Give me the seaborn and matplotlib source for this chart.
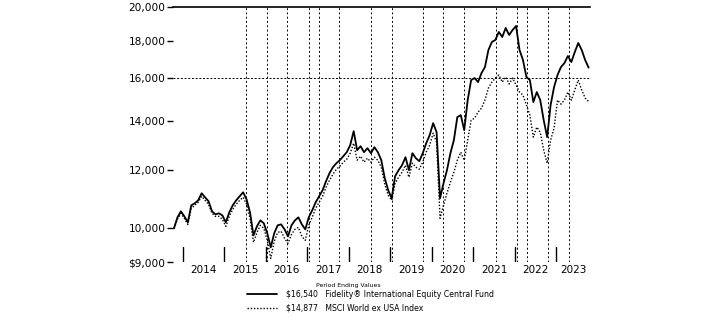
import numpy as np
import pandas as pd
import matplotlib
matplotlib.use("Agg")
import matplotlib.pyplot as plt
import seaborn as sns
from matplotlib.lines import Line2D
from matplotlib.ticker import FixedLocator, NullLocator

# ---- data (month-end values of a hypothetical $10,000 investment, Oct 2013 - Oct 2023) ----
fund_values = [
    10000, 10351, 10547,
    10383, 10190, 10748, 10815, 10918, 11161, 11021, 10884, 10547, 10449, 10482, 10416,
    10190, 10514, 10748, 10918, 11056, 11196, 10952, 10514, 9783, 10063, 10254, 10158,
    9845, 9422, 9845, 10095, 10126, 9969, 9752, 10095, 10254, 10351, 10126, 9969,
    10351, 10581, 10850, 11056, 11267, 11590, 11884, 12110, 12263, 12379, 12535, 12693,
    12975, 13557, 12773, 12934, 12693, 12853, 12654, 12894, 12693, 12379, 11699, 11267,
    10987, 11773, 11997, 12186, 12496, 11997, 12654, 12457, 12340, 12654, 13056, 13389,
    13902, 13515, 10987, 11517, 11997, 12654, 13180, 14166, 14255, 13600, 14943, 15910,
    16010, 15811, 16263, 16572, 17481, 17925, 18038, 18496, 18208, 18730, 18323, 18613,
    18848, 17481, 16941, 16061, 15910, 14849, 15323, 14943, 14034, 13305, 14710, 15565,
    16162, 16572, 16782, 17155, 16835, 17371, 17869, 17481, 16941, 16540,
]
index_values = [
    10000, 10286, 10482,
    10319, 10126, 10647, 10748, 10850, 11056, 10918, 10782, 10482, 10383, 10383, 10286,
    10063, 10383, 10614, 10782, 10918, 11021, 10782, 10319, 9571, 9875, 10095, 10000,
    9631, 9101, 9601, 9875, 9906, 9691, 9541, 9814, 9969, 10031, 9752, 9631,
    10095, 10351, 10647, 10850, 11056, 11373, 11626, 11847, 12034, 12148, 12302, 12418,
    12654, 13056, 12379, 12535, 12302, 12457, 12302, 12496, 12379, 12110, 11481, 11091,
    10918, 11517, 11736, 11922, 12186, 11736, 12263, 12110, 12034, 12302, 12693, 12975,
    13473, 13097, 10319, 10748, 11161, 11553, 11922, 12379, 12693, 12379, 13180, 14034,
    14122, 14390, 14572, 14943, 15516, 15811, 16010, 16162, 15811, 16061, 15712, 16010,
    15663, 15323, 15179, 14710, 14255, 13305, 13729, 13515, 12773, 12263, 13180, 13686,
    14943, 14756, 14943, 15323, 14943, 15419, 15910, 15419, 15037, 14877,
]
fund_label = "$16,540   Fidelity\u00ae International Equity Central Fund"
index_label = "$14,877   MSCI World ex USA Index"
legend_title = "Period Ending Values"
year_labels = ["2014", "2015", "2016", "2017", "2018", "2019", "2020", "2021", "2022", "2023"]
ytick_values = [9000, 10000, 12000, 14000, 16000, 18000, 20000]
ytick_labels = ["$9,000", "10,000", "12,000", "14,000", "16,000", "18,000", "20,000"]

# reference markers (in months from start)
first_year_start = 2.6
ref_months = [20.8, 26.9, 32.7, 39.1, 42.0, 47.8, 57.0, 63.1, 72.1, 77.9,
              84.0, 93.2, 99.3, 102.2, 108.3, 114.4]
ref_level = 16000

sns.set_theme(style="white")
plt.rcParams["font.family"] = ["DejaVu Sans"]

W, H = 719, 322
fig = plt.figure(figsize=(W / 100, H / 100), dpi=100)
ax = fig.add_axes([173 / W, 1 - 262 / H, (590 - 173) / W, (262 - 7) / H])

months = np.arange(len(fund_values))
df = pd.DataFrame({"month": months, "fund": fund_values, "index": index_values})

for m in ref_months:
    ax.axvline(m, color="black", lw=0.7, ls=(0, (2.0, 2.4)), zorder=1)
ax.axhline(ref_level, color="black", lw=0.7, ls=(0, (2.0, 1.8)), zorder=1)

sns.lineplot(data=df, x="month", y="index", ax=ax, color="black", lw=1.0,
             linestyle=(0, (1, 1.3)), legend=False, zorder=3)
sns.lineplot(data=df, x="month", y="fund", ax=ax, color="black", lw=1.3,
             legend=False, zorder=4)

ax.set_yscale("log")
ax.set_ylim(9000, 20000)
xmax = 120.4
ax.set_xlim(-0.29, xmax)
ax.yaxis.set_major_locator(FixedLocator(ytick_values))
ax.yaxis.set_minor_locator(NullLocator())
ax.set_yticklabels(ytick_labels)
ax.set_xlabel("")
ax.set_ylabel("")

# year separators and labels
seps = [first_year_start + 12 * k for k in range(len(year_labels))]
for s in seps:
    ax.axvline(s, ymin=0, ymax=15 / 255, color="black", lw=1.0, zorder=2)
ends = seps[1:] + [xmax]
label_pos = [(a + b) / 2 for a, b in zip(seps, ends)]
ax.xaxis.set_major_locator(FixedLocator(label_pos))
ax.xaxis.set_minor_locator(NullLocator())
ax.set_xticklabels(year_labels)

for side in ["left", "right", "bottom"]:
    ax.spines[side].set_visible(False)
ax.spines["top"].set_visible(True)
ax.spines["top"].set_color("black")
ax.spines["top"].set_linewidth(1.2)

ax.tick_params(axis="y", which="major", direction="out", length=4.5, width=1.0,
               color="black", labelsize=7.6, pad=1.0, left=True, labelcolor="black")
ax.tick_params(axis="x", which="major", length=0, labelsize=7.5, pad=2.5,
               labelcolor="black")
ax.grid(False)

# legend
handles = [Line2D([], [], color="black", lw=1.3),
           Line2D([], [], color="black", lw=1.0, ls=(0, (1, 1.3)))]
fig.text(348 / W, 1 - 285 / H, legend_title, ha="center", va="center",
         fontsize=4.4, color="black")
fig.legend(handles, [fund_label, index_label], loc="upper left",
           bbox_to_anchor=(247 / W, 1 - 290 / H), frameon=False, fontsize=5.6,
           handlelength=3.9, handletextpad=1.1, labelspacing=0.6,
           borderpad=0, borderaxespad=0, labelcolor="black")

fig.savefig("out.png", dpi=100, facecolor="white")
